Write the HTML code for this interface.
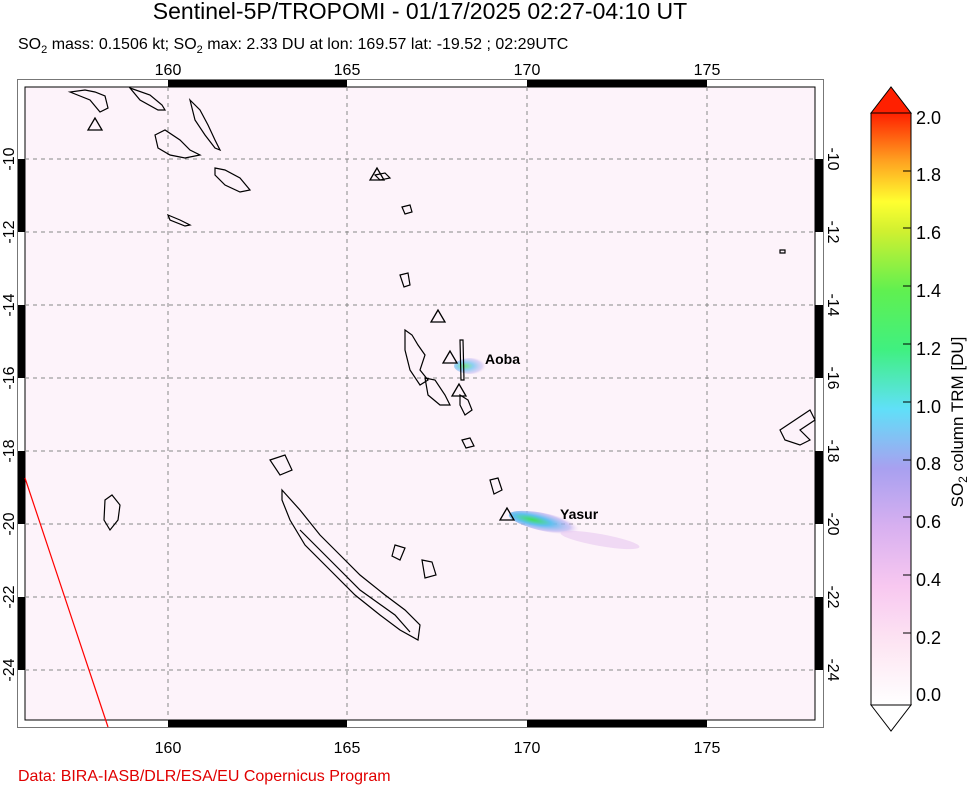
<!DOCTYPE html>
<html><head><meta charset="utf-8"><style>
body{margin:0;background:#fff;}
svg{display:block;font-family:"Liberation Sans",sans-serif;}
</style></head><body>
<svg width="969" height="786" viewBox="0 0 969 786" xmlns="http://www.w3.org/2000/svg">
<defs>
<linearGradient id="cb" x1="0" y1="1" x2="0" y2="0">
<stop offset="0" stop-color="#ffffff"/>
<stop offset="0.1" stop-color="#fde6f3"/>
<stop offset="0.2" stop-color="#f8c8f0"/>
<stop offset="0.3" stop-color="#d8b0f0"/>
<stop offset="0.4" stop-color="#a8a0f0"/>
<stop offset="0.5" stop-color="#60e0f8"/>
<stop offset="0.6" stop-color="#40f080"/>
<stop offset="0.7" stop-color="#60f050"/>
<stop offset="0.8" stop-color="#d0f030"/>
<stop offset="0.85" stop-color="#ffff30"/>
<stop offset="0.92" stop-color="#ffa020"/>
<stop offset="1" stop-color="#ff2000"/>
</linearGradient>
<radialGradient id="plume" cx="0.3" cy="0.5" r="0.6">
<stop offset="0" stop-color="#40e060"/>
<stop offset="0.4" stop-color="#60c0f0"/>
<stop offset="0.8" stop-color="#b0a8f0" stop-opacity="0.6"/>
<stop offset="1" stop-color="#f0d0f0" stop-opacity="0"/>
</radialGradient>
</defs>
<text x="420" y="19" font-size="23" text-anchor="middle">Sentinel-5P/TROPOMI - 01/17/2025 02:27-04:10 UT</text>
<text x="18" y="49" font-size="16">SO<tspan font-size="11" dy="4">2</tspan><tspan dy="-4"> mass: 0.1506 kt; SO</tspan><tspan font-size="11" dy="4">2</tspan><tspan dy="-4"> max: 2.33 DU at lon: 169.57 lat: -19.52 ; 02:29UTC</tspan></text>
<rect x="17.5" y="79.5" width="806" height="648" fill="#fff" stroke="#777" stroke-width="1"/>
<rect x="25" y="87" width="790" height="633" fill="#fdf3fa" stroke="#000" stroke-width="1"/>
<g fill="#000">
<rect x="168" y="80" width="179" height="7"/><rect x="527" y="80" width="180" height="7"/>
<rect x="168" y="720" width="179" height="7"/><rect x="527" y="720" width="180" height="7"/>
<rect x="18" y="159" width="7" height="73"/><rect x="18" y="305" width="7" height="73"/><rect x="18" y="451" width="7" height="73"/><rect x="18" y="597" width="7" height="73"/>
<rect x="815" y="159" width="8" height="73"/><rect x="815" y="305" width="8" height="73"/><rect x="815" y="451" width="8" height="73"/><rect x="815" y="597" width="8" height="73"/>
</g>
<g stroke="#888" stroke-width="1" stroke-dasharray="4,4" fill="none">
<line x1="168" y1="87" x2="168" y2="720"/><line x1="347" y1="87" x2="347" y2="720"/><line x1="527" y1="87" x2="527" y2="720"/><line x1="707" y1="87" x2="707" y2="720"/>
<line x1="25" y1="159" x2="815" y2="159"/><line x1="25" y1="232" x2="815" y2="232"/><line x1="25" y1="305" x2="815" y2="305"/><line x1="25" y1="378" x2="815" y2="378"/><line x1="25" y1="451" x2="815" y2="451"/><line x1="25" y1="524" x2="815" y2="524"/><line x1="25" y1="597" x2="815" y2="597"/><line x1="25" y1="670" x2="815" y2="670"/>
</g>
<g font-size="16" text-anchor="middle">
<text x="168" y="75">160</text><text x="347" y="75">165</text><text x="527" y="75">170</text><text x="707" y="75">175</text>
<text x="168" y="753">160</text><text x="347" y="753">165</text><text x="527" y="753">170</text><text x="707" y="753">175</text>
</g>
<g font-size="16" text-anchor="middle">
<text transform="translate(14,159) rotate(-90)">-10</text><text transform="translate(14,232) rotate(-90)">-12</text><text transform="translate(14,305) rotate(-90)">-14</text><text transform="translate(14,378) rotate(-90)">-16</text><text transform="translate(14,451) rotate(-90)">-18</text><text transform="translate(14,524) rotate(-90)">-20</text><text transform="translate(14,597) rotate(-90)">-22</text><text transform="translate(14,670) rotate(-90)">-24</text>
<text transform="translate(828,159) rotate(90)">-10</text><text transform="translate(828,232) rotate(90)">-12</text><text transform="translate(828,305) rotate(90)">-14</text><text transform="translate(828,378) rotate(90)">-16</text><text transform="translate(828,451) rotate(90)">-18</text><text transform="translate(828,524) rotate(90)">-20</text><text transform="translate(828,597) rotate(90)">-22</text><text transform="translate(828,670) rotate(90)">-24</text>
</g>
<ellipse cx="472" cy="366" rx="18" ry="8" fill="url(#plume)" opacity="0.7"/>
<ellipse cx="548" cy="523" rx="40" ry="9" transform="rotate(12 548 523)" fill="url(#plume)"/>
<ellipse cx="600" cy="540" rx="40" ry="6" transform="rotate(10 600 540)" fill="#e8c8f0" opacity="0.6"/>
<g fill="none" stroke="#000" stroke-width="1.2">
<path d="M70 92 L90 100 L100 112 L108 108 L105 96 L95 92 L85 90Z"/>
<path d="M130 88 L150 95 L162 105 L165 110 L158 110 L140 100Z"/>
<path d="M155 135 L165 130 L180 140 L190 150 L200 155 L185 158 L170 155 L158 148Z"/>
<path d="M190 100 L200 110 L208 125 L215 140 L220 150 L215 148 L205 135 L195 120Z"/>
<path d="M215 168 L225 170 L240 178 L250 190 L240 192 L225 185 L215 175Z"/>
<path d="M168 215 L180 220 L190 225 L185 226 L170 220Z"/>
<path d="M375 175 L385 173 L390 178 L380 180Z"/>
<path d="M402 207 L410 205 L412 212 L405 214Z"/>
<path d="M400 275 L408 273 L410 285 L404 287Z"/>
<path d="M405 330 L412 335 L418 345 L425 355 L420 370 L428 380 L420 385 L410 370 L405 350Z"/>
<path d="M425 378 L435 380 L445 395 L450 405 L440 405 L428 395Z"/>
<path d="M460 340 L463 340 L464 380 L461 380Z"/>
<path d="M460 395 L468 400 L472 410 L465 415 L460 405Z"/>
<path d="M462 440 L470 438 L474 446 L466 448Z"/>
<path d="M490 480 L498 478 L502 490 L494 494Z"/>
<path d="M270 460 L285 455 L292 470 L280 475Z"/>
<path d="M282 490 L300 510 L320 535 L340 555 L360 575 L385 595 L405 610 L420 625 L418 640 L400 630 L380 615 L355 595 L330 570 L305 545 L290 520 L282 500Z"/>
<path d="M300 530 L330 560 L360 590 L395 615 L410 632"/>
<path d="M105 500 L112 495 L120 505 L118 520 L110 530 L104 520Z"/>
<path d="M395 545 L405 548 L400 560 L392 556Z"/>
<path d="M422 560 L432 562 L436 575 L425 578Z"/>
<path d="M780 430 L795 420 L810 410 L815 420 L800 430 L810 440 L800 445 L785 440Z"/>
<path d="M780 250 L785 250 L785 253 L780 253Z"/>
</g>
<line x1="25" y1="478" x2="108" y2="727" stroke="#f00" stroke-width="1.2"/>
<g fill="none" stroke="#000" stroke-width="1.3">
<path d="M95 118 L88 130 L102 130Z"/>
<path d="M377 168 L370 180 L384 180Z"/>
<path d="M438 310 L431 322 L445 322Z"/>
<path d="M450 351 L443 363 L457 363Z"/>
<path d="M459 384 L452 396 L466 396Z"/>
<path d="M507 508 L500 520 L514 520Z"/>
</g>
<text x="485" y="364" font-size="14" font-weight="bold">Aoba</text>
<text x="560" y="519" font-size="14" font-weight="bold">Yasur</text>
<rect x="871" y="113" width="40" height="592" fill="url(#cb)" stroke="#000"/>
<path d="M871 113 L891 87 L911 113Z" fill="#ff2000" stroke="#000"/>
<path d="M871 705 L891 731 L911 705Z" fill="#fff" stroke="#000"/>
<g stroke="#000">
<line x1="903" y1="171" x2="911" y2="171"/><line x1="903" y1="228" x2="911" y2="228"/><line x1="903" y1="286" x2="911" y2="286"/><line x1="903" y1="344" x2="911" y2="344"/><line x1="903" y1="402" x2="911" y2="402"/><line x1="903" y1="460" x2="911" y2="460"/><line x1="903" y1="517" x2="911" y2="517"/><line x1="903" y1="575" x2="911" y2="575"/><line x1="903" y1="633" x2="911" y2="633"/>
</g>
<g font-size="18">
<text x="916" y="124">2.0</text><text x="916" y="181">1.8</text><text x="916" y="239">1.6</text><text x="916" y="297">1.4</text><text x="916" y="355">1.2</text><text x="916" y="413">1.0</text><text x="916" y="470">0.8</text><text x="916" y="528">0.6</text><text x="916" y="586">0.4</text><text x="916" y="644">0.2</text><text x="916" y="701">0.0</text>
</g>
<text transform="translate(963,422) rotate(-90)" font-size="17" text-anchor="middle">SO<tspan font-size="12" dy="4">2</tspan><tspan dy="-4"> column TRM [DU]</tspan></text>
<text x="18" y="781" font-size="16" fill="#e00000">Data: BIRA-IASB/DLR/ESA/EU Copernicus Program</text>
</svg>
</body></html>
